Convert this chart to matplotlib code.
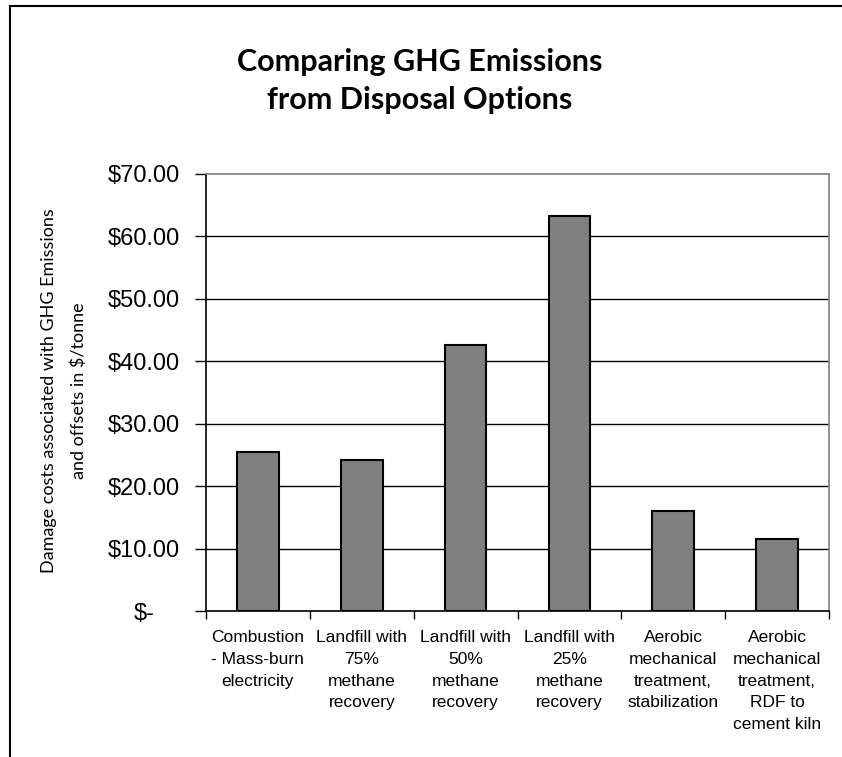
import matplotlib
matplotlib.use("Agg")
import matplotlib.pyplot as plt
from matplotlib.ticker import FixedLocator
from matplotlib.transforms import ScaledTranslation
from matplotlib.lines import Line2D

categories = [
    "Combustion\n- Mass-burn\nelectricity",
    "Landfill with\n75%\nmethane\nrecovery",
    "Landfill with\n50%\nmethane\nrecovery",
    "Landfill with\n25%\nmethane\nrecovery",
    "Aerobic\nmechanical\ntreatment,\nstabilization",
    "Aerobic\nmechanical\ntreatment,\nRDF to\ncement kiln",
]
values = [25.4, 24.2, 42.6, 63.2, 16.0, 11.6]
yticks = [0, 10, 20, 30, 40, 50, 60, 70]
ytick_labels = ["\\$-", "\\$10.00", "\\$20.00", "\\$30.00", "\\$40.00",
                "\\$50.00", "\\$60.00", "\\$70.00"]

W, H = 842, 757
fig = plt.figure(figsize=(W / 100, H / 100), dpi=100)
ax = fig.add_axes([206 / W, 1 - 611 / H, (829 - 206) / W, (611 - 174) / H])

x = list(range(len(categories)))
ax.bar(x, values, width=0.4, color="#808080", edgecolor="black", linewidth=1.5, zorder=3)

ax.set_xlim(-0.5, len(categories) - 0.5)
ax.set_ylim(0, 70)

for v in yticks[1:-1]:
    ax.axhline(v, color="black", linewidth=1.0, zorder=1)

ax.set_yticks(yticks)
ax.set_yticklabels(ytick_labels, fontfamily=["Liberation Sans", "DejaVu Sans"], fontsize=17)
ax.tick_params(axis="y", direction="out", length=8, width=1, pad=11, color="black")

ax.set_xticks(x)
ax.set_xticklabels(categories, fontfamily=["Liberation Sans", "DejaVu Sans"],
                   fontsize=12.5, linespacing=1.55, va="top")
ax.tick_params(axis="x", which="major", length=0, pad=14)
ax.xaxis.set_minor_locator(FixedLocator([i - 0.5 for i in range(len(categories) + 1)]))
ax.tick_params(axis="x", which="minor", direction="out", length=6, width=1, color="black")

# offset "$-" label like accounting format
lab0 = ax.get_yticklabels()[0]
lab0.set_transform(lab0.get_transform() + ScaledTranslation(-25 / 100, 0, fig.dpi_scale_trans))

ax.spines["left"].set_color("black")
ax.spines["bottom"].set_color("black")
ax.spines["top"].set_color("#808080")
ax.spines["right"].set_color("#808080")
for s in ax.spines.values():
    s.set_linewidth(1.2)

fig.text(0.499, 1 - 81 / H, "Comparing GHG Emissions\nfrom Disposal Options",
         ha="center", va="center", fontsize=22, fontweight="bold",
         fontfamily=["Lato", "DejaVu Sans"], linespacing=1.45)

fig.text(64 / W, 1 - 391 / H,
         "Damage costs associated with GHG Emissions\nand offsets in $/tonne",
         rotation=90, ha="center", va="center", fontsize=13,
         fontfamily=["Lato", "DejaVu Sans"], linespacing=2.0, multialignment="center")

# outer chart border (left and top)
fig.add_artist(Line2D([10 / W, 10 / W], [0, 1 - 6 / H], transform=fig.transFigure,
                      color="black", linewidth=1.5))
fig.add_artist(Line2D([10 / W, 1], [1 - 6 / H, 1 - 6 / H], transform=fig.transFigure,
                      color="black", linewidth=1.5))

fig.savefig("out.png", dpi=100)
